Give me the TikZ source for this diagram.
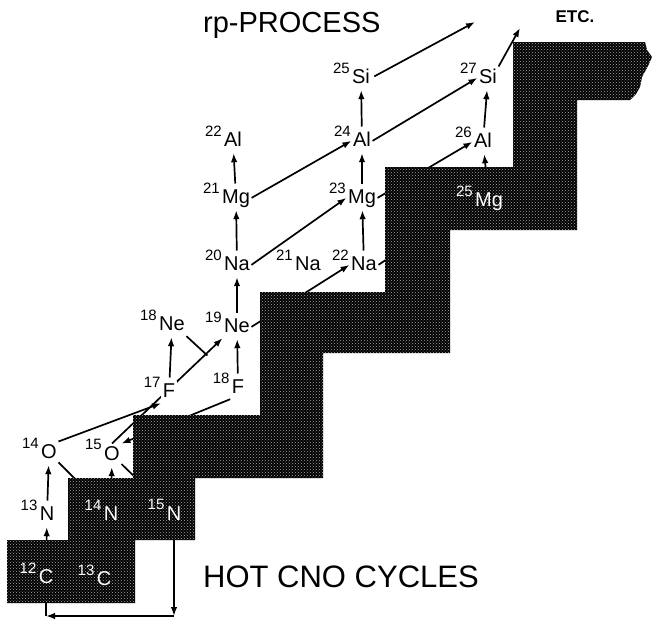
\documentclass[tikz,border=0pt]{standalone}
\usepackage{fontspec}
\setmainfont{Liberation Sans}
\usetikzlibrary{arrows.meta,patterns}

\pgfdeclarelayer{back}
\pgfsetlayers{back,main}

\tikzset{
  el/.style={anchor=base, inner xsep=1.5pt, inner ysep=2pt, text height=14.3pt, text depth=4pt,
    font=\fontsize{20}{20}\selectfont},
  mass/.style={inner sep=0.5pt, font=\fontsize{15}{15}\selectfont},
  m/.style={label={[mass,yshift=10pt]left:#1}},
  wm/.style={text=white, label={[mass,text=white,yshift=10pt]left:#1}},
  up/.style={->, shorten <=3pt, shorten >=1pt},
}

\begin{document}
\begin{tikzpicture}[x=1pt, y=-1pt, >={Latex[length=9pt,width=6.5pt]}]
  \useasboundingbox (0,0) rectangle (658,621);

  % stable region (staircase)
  \path[preaction={fill=black}, pattern=crosshatch dots, pattern color=black!35]
    (7,603) -- (7,540) -- (68,540) -- (68,478) -- (133,478) -- (133,415)
    -- (260,415) -- (260,292) -- (385,292) -- (385,167) -- (513,167) -- (513,42)
    -- (645,42) -- (647,50) -- (652,57) -- (648,66) -- (642,77) -- (640,87)
    -- (636,94) -- (630,100) -- (577,100) -- (577,230) -- (450,230) -- (450,353)
    -- (323,353) -- (323,478) -- (195,478) -- (195,540) -- (135,540) -- (135,603)
    -- cycle;

  % nuclei inside the dark region
  \node[el, wm=12] (c12) at (46,583) {C};
  \node[el, wm=13] (c13) at (104,585) {C};
  \node[el, wm=14] (n14) at (111,520) {N};
  \node[el, wm=15] (n15) at (174,520) {N};
  \node[el, wm=25] (mg25) at (489,206) {Mg};

  % nuclei outside
  \node[el, m=13] (n13) at (47,520) {N};
  \node[el, m=14] (o14) at (49,458) {O};
  \node[el, m=15] (o15) at (112,460) {O};
  \node[el, m=17, fill=white] (f17) at (169,397) {F};
  \node[el, m=18] (f18) at (238,393) {F};
  \node[el, m=18] (ne18) at (172,330) {Ne};
  \node[el, m=19] (ne19) at (237,332) {Ne};
  \node[el, m=20] (na20) at (237,270) {Na};
  \node[el, m=21] (na21) at (308,270) {Na};
  \node[el, m=22] (na22) at (364,270) {Na};
  \node[el, m=21] (mg21) at (236,203) {Mg};
  \node[el, m=23] (mg23) at (362,203) {Mg};
  \node[el, m=22] (al22) at (233,146) {Al};
  \node[el, m=24] (al24) at (362,146) {Al};
  \node[el, m=26] (al26) at (483,147) {Al};
  \node[el, m=25] (si25) at (361,83) {Si};
  \node[el, m=27] (si27) at (488,83) {Si};

  \node[anchor=base west, inner sep=0pt, font=\fontsize{29}{29}\selectfont] (rp) at (203,32) {rp-PROCESS};
  \node[anchor=base west, inner sep=0pt, font=\fontsize{31}{31}\selectfont] (hot) at (203,587) {HOT CNO CYCLES};
  \node[anchor=base, inner sep=0pt, font=\bfseries\fontsize{17}{17}\selectfont] (etc) at (575,22) {ETC.};

  \coordinate (ret) at (174,616);
  \coordinate (out25) at (475,22);
  \coordinate (out27) at (520,28);

  \begin{pgfonlayer}{back}
  \begin{scope}[line width=1.7pt]
    % hot CNO
    \draw[up] (c12) -- (n13);
    \draw[up] (n13) -- (o14);
    \draw[up] (n14) -- (o15);
    \draw (o14) -- (n14);
    \draw (o15) -- (n15);
    \draw[->] (n15) -- (n15 |- ret);
    \draw[->] (n15 |- ret) -- (c12 |- ret);
    \draw (c12) -- (c12 |- ret);
    % breakout
    \draw[->] (o14.north east) -- (f17.south west);
    \draw[->] (o15.north) -- (ne19.south west);
    \draw[->] (f18.south west) -- (o15.north east);
    \draw[up] (f17) -- (ne18);
    \draw[shorten >=31pt] (ne18.south east) -- (f18.north west);
    \draw[up] (f18) -- (ne19);
    % rp-process
    \draw[up] (ne19) -- (na20);
    \draw[up] (na20) -- (mg21);
    \draw[up] (mg21) -- (al22);
    \draw[up] (na22) -- (mg23);
    \draw[up] (mg23) -- (al24);
    \draw[up] (al24) -- (si25);
    \draw[up] (mg25) -- (al26);
    \draw[up] (al26) -- (si27);
    \draw[->] (ne19.east) -- (na22.west);
    \draw[->] (na20.east) -- (mg23.west);
    \draw[->] (na22.east) -- (mg25.west);
    \draw[->] (mg21.east) -- (al24.west);
    \draw[->] (mg23.east) -- (al26.west);
    \draw[->] (al24.east) -- (si27.west);
    \draw[->, shorten <=3pt] (si25.east) -- (out25);
    \draw[->] (si27.north east) -- (out27);
  \end{scope}
  \end{pgfonlayer}
\end{tikzpicture}
\end{document}
